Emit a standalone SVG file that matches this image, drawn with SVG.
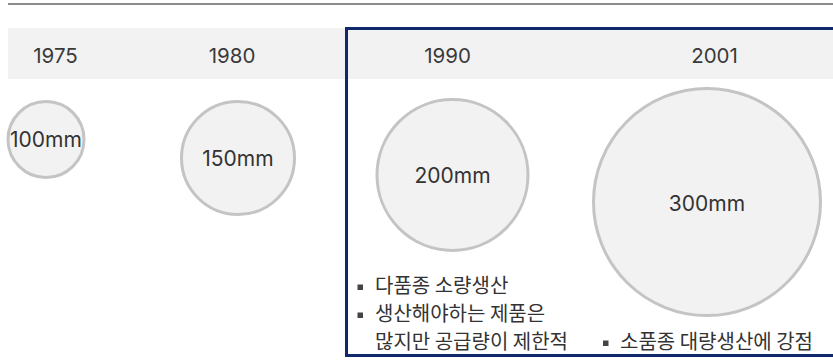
<svg xmlns="http://www.w3.org/2000/svg" width="833" height="361" viewBox="0 0 833 361">
<style>
.yr{font-family:Inter,"Liberation Sans",sans-serif;font-size:20.5px;fill:#3a3a3a;text-anchor:middle}
.wf{fill:#f2f2f2;stroke:#c4c4c4;stroke-width:3}
.lb{font-family:Inter,"Liberation Sans",sans-serif;font-size:21px;fill:#333;text-anchor:middle}
.kr{font-family:"Noto Sans CJK KR",sans-serif;font-size:20px;fill:#333}
.bl{fill:#444}
</style>
<rect x="0" y="0" width="833" height="361" fill="#fff"/>
<line x1="8" y1="4" x2="833" y2="4" stroke="#8c8c8c" stroke-width="2"/>
<rect x="8" y="28" width="825" height="51" fill="#f2f2f2"/>
<rect id="highlight" x="346.5" y="28.5" width="500" height="327" fill="none" stroke="#0f2a6b" stroke-width="3"/>
<g id="years">
<text class="yr" x="55.5" y="62.5">1975</text>
<text class="yr" x="232" y="62.5">1980</text>
<text class="yr" x="447.5" y="62.5">1990</text>
<text class="yr" x="714.5" y="62.5">2001</text>
</g>
<g id="w100"><circle class="wf" cx="46" cy="139.5" r="38"/><text class="lb" x="46" y="147">100mm</text></g>
<g id="w150"><circle class="wf" cx="238" cy="158" r="56.5"/><text class="lb" x="238" y="166">150mm</text></g>
<g id="w200"><circle class="wf" cx="452.5" cy="175" r="75.5"/><text class="lb" x="452.5" y="183">200mm</text></g>
<g id="w300"><circle class="wf" cx="707" cy="202" r="113.5"/><text class="lb" x="707" y="210.5">300mm</text></g>
<g id="notes1990">
<rect class="bl" x="357.5" y="284.5" width="5.5" height="5.5"/>
<text class="kr" x="375" y="293">다품종 소량생산</text>
<rect class="bl" x="357.5" y="312.5" width="5.5" height="5.5"/>
<text class="kr" x="375" y="321">생산해야하는 제품은</text>
<text class="kr" x="375" y="349">많지만 공급량이 제한적</text>
</g>
<g id="notes2001">
<rect class="bl" x="603" y="340.5" width="5.5" height="5.5"/>
<text class="kr" x="620" y="349">소품종 대량생산에 강점</text>
</g>
<g id="connectors"/>
</svg>
